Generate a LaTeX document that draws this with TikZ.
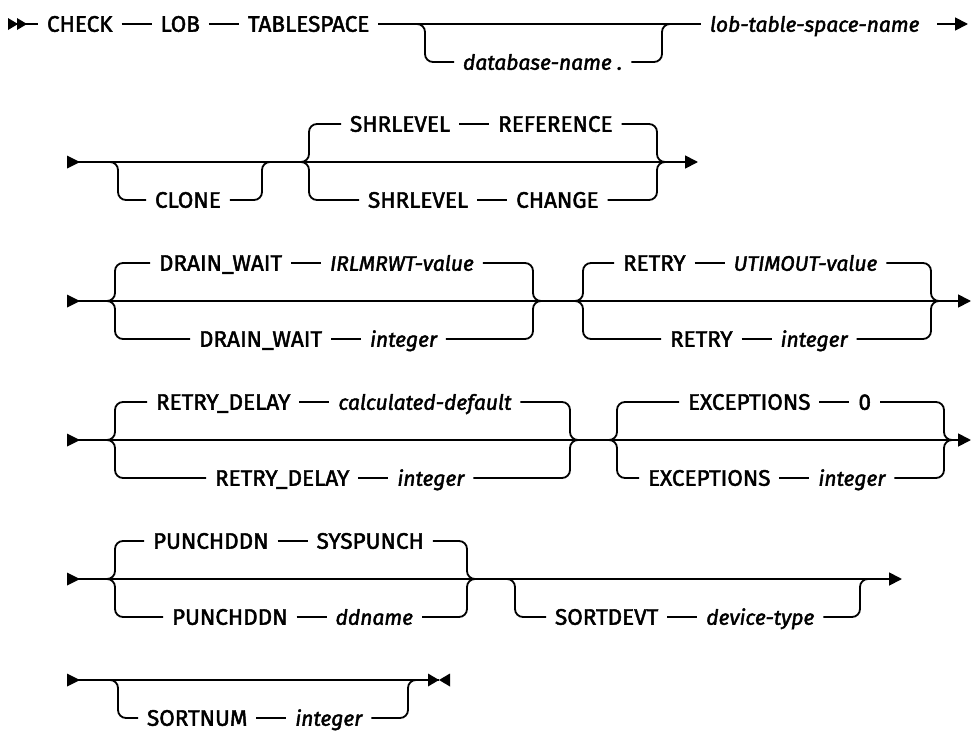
\documentclass[tikz,border=0pt]{standalone}
\usepackage{fontspec}
\setmainfont{Fira Sans}[FakeBold=2]
\usepackage{tikz}
\usetikzlibrary{positioning,arrows.meta}

\begin{document}
\begin{tikzpicture}[x=1pt,y=-1pt,node distance=30pt]
  \tikzstyle{rail}=[line width=1.8pt,rounded corners=8pt]
  \tikzstyle{kw}=[font=\fontsize{22.5}{26}\selectfont\addfontfeature{FakeBold=2},
                  inner sep=0pt,outer xsep=9pt,text height=15.5pt,
                  text depth=0pt,anchor=west]
  \tikzstyle{var}=[kw,font=\fontsize{21}{25}\selectfont\itshape\addfontfeature{FakeBold=2}]
  \tikzstyle{go}=[-{Triangle[length=13pt,width=13pt]}]

  \useasboundingbox (0,0) rectangle (972,736);

  % row 1
  \coordinate (r1s) at (8,24);
  \coordinate (s1) at (415,24);
  \coordinate (j1) at (672,24);
  \coordinate (e1) at (968,24);
  \node[kw] (check) at (38,24) {CHECK};
  \node[kw] (lob) [right=of check] {LOB};
  \node[kw] (tblspace) [right=of lob] {TABLESPACE};
  \node[var] (dbname) at (454,62) {database-name .};
  \node[var] (lobname) at (701,24) {lob-table-space-name};

  \fill (r1s) -- ++(0,-6) -- ++(10,6) -- ++(-10,6) -- cycle;
  \fill (r1s) ++(9,0) -- ++(0,-6) -- ++(10,6) -- ++(-10,6) -- cycle;
  \draw[rail] (r1s) -- (check);
  \draw[rail] (check) -- (lob);
  \draw[rail] (lob) -- (tblspace);
  \draw[rail] (tblspace) -- (lobname);
  \draw[rail] (s1) -- ++(10,0) |- (dbname);
  \draw[rail] (j1) -- ++(-10,0) |- (dbname);
  \draw[rail,go,shorten <=9pt] (lobname) -- (e1);

  % row 2
  \coordinate (r2s) at (67,162);
  \coordinate (e2) at (698,162);
  \coordinate (s2a) at (108,162);
  \coordinate (j2a) at (272,162);
  \coordinate (s2b) at (299,162);
  \coordinate (j2b) at (667,162);
  \node[kw] (clone) at (146,200) {CLONE};
  \node[kw] (shrA) at (341,124) {SHRLEVEL};
  \node[kw] (refr) [right=of shrA] {REFERENCE};
  \node[kw] (shrB) at (359,200) {SHRLEVEL};
  \node[kw] (chng) [right=of shrB] {CHANGE};

  \fill (r2s) -- ++(0,-6.5) -- ++(13,6.5) -- ++(-13,6.5) -- cycle;
  \draw[rail,go] (r2s) -- (e2);
  \draw[rail] (s2a) -- ++(10,0) |- (clone);
  \draw[rail] (j2a) -- ++(-10,0) |- (clone);
  \draw[rail] (s2b) -- ++(10,0) |- (shrA);
  \draw[rail] (s2b) -- ++(10,0) |- (shrB);
  \draw[rail] (shrA) -- (refr);
  \draw[rail] (shrB) -- (chng);
  \draw[rail] (j2b) -- ++(-10,0) |- (refr);
  \draw[rail] (j2b) -- ++(-10,0) |- (chng);

  % row 3
  \coordinate (r3s) at (67,301);
  \coordinate (e3) at (971,301);
  \coordinate (s3a) at (105,301);
  \coordinate (j3a) at (543,301);
  \coordinate (s3b) at (573,301);
  \coordinate (j3b) at (941,301);
  \node[kw] (dwA) at (150,263) {DRAIN\_WAIT};
  \node[var] (irlm) [right=of dwA] {IRLMRWT-value};
  \node[kw] (dwB) at (190,339) {DRAIN\_WAIT};
  \node[var] (dwint) [right=of dwB] {integer};
  \node[kw] (rtA) at (614,263) {RETRY};
  \node[var] (utim) [right=of rtA] {UTIMOUT-value};
  \node[kw] (rtB) at (661,339) {RETRY};
  \node[var] (rtint) [right=of rtB] {integer};

  \fill (r3s) -- ++(0,-6.5) -- ++(13,6.5) -- ++(-13,6.5) -- cycle;
  \draw[rail,go] (r3s) -- (e3);
  \draw[rail] (s3a) -- ++(10,0) |- (dwA);
  \draw[rail] (s3a) -- ++(10,0) |- (dwB);
  \draw[rail] (dwA) -- (irlm);
  \draw[rail] (dwB) -- (dwint);
  \draw[rail] (j3a) -- ++(-10,0) |- (irlm);
  \draw[rail] (j3a) -- ++(-10,0) |- (dwint);
  \draw[rail] (s3b) -- ++(10,0) |- (rtA);
  \draw[rail] (s3b) -- ++(10,0) |- (rtB);
  \draw[rail] (rtA) -- (utim);
  \draw[rail] (rtB) -- (rtint);
  \draw[rail] (j3b) -- ++(-10,0) |- (utim);
  \draw[rail] (j3b) -- ++(-10,0) |- (rtint);

  % row 4
  \coordinate (r4s) at (67,440);
  \coordinate (e4) at (971,440);
  \coordinate (s4a) at (105,440);
  \coordinate (j4a) at (580,440);
  \coordinate (s4b) at (607,440);
  \coordinate (j4b) at (954,440);
  \node[kw] (rdA) at (147,402) {RETRY\_DELAY};
  \node[var] (calc) [right=of rdA] {calculated-default};
  \node[kw] (rdB) at (206,478) {RETRY\_DELAY};
  \node[var] (rdint) [right=of rdB] {integer};
  \node[kw] (exA) at (679,402) {EXCEPTIONS};
  \node[kw] (zero) [right=of exA] {0};
  \node[kw] (exB) at (639,478) {EXCEPTIONS};
  \node[var] (exint) [right=of exB] {integer};

  \fill (r4s) -- ++(0,-6.5) -- ++(13,6.5) -- ++(-13,6.5) -- cycle;
  \draw[rail,go] (r4s) -- (e4);
  \draw[rail] (s4a) -- ++(10,0) |- (rdA);
  \draw[rail] (s4a) -- ++(10,0) |- (rdB);
  \draw[rail] (rdA) -- (calc);
  \draw[rail] (rdB) -- (rdint);
  \draw[rail] (j4a) -- ++(-10,0) |- (calc);
  \draw[rail] (j4a) -- ++(-10,0) |- (rdint);
  \draw[rail] (s4b) -- ++(10,0) |- (exA);
  \draw[rail] (s4b) -- ++(10,0) |- (exB);
  \draw[rail] (exA) -- (zero);
  \draw[rail] (exB) -- (exint);
  \draw[rail] (j4b) -- ++(-10,0) |- (zero);
  \draw[rail] (j4b) -- ++(-10,0) |- (exint);

  % row 5
  \coordinate (r5s) at (67,579);
  \coordinate (e5) at (902,579);
  \coordinate (s5a) at (105,579);
  \coordinate (j5a) at (477,579);
  \coordinate (s5b) at (505,579);
  \coordinate (j5b) at (870,579);
  \node[kw] (pdA) at (144,541) {PUNCHDDN};
  \node[kw] (sysp) [right=of pdA] {SYSPUNCH};
  \node[kw] (pdB) at (163,617) {PUNCHDDN};
  \node[var] (ddn) [right=of pdB] {ddname};
  \node[kw] (sdv) at (546,617) {SORTDEVT};
  \node[var] (devt) [right=of sdv] {device-type};

  \fill (r5s) -- ++(0,-6.5) -- ++(13,6.5) -- ++(-13,6.5) -- cycle;
  \draw[rail,go] (r5s) -- (e5);
  \draw[rail] (s5a) -- ++(10,0) |- (pdA);
  \draw[rail] (s5a) -- ++(10,0) |- (pdB);
  \draw[rail] (pdA) -- (sysp);
  \draw[rail] (pdB) -- (ddn);
  \draw[rail] (j5a) -- ++(-10,0) |- (sysp);
  \draw[rail] (j5a) -- ++(-10,0) |- (ddn);
  \draw[rail] (s5b) -- ++(10,0) |- (sdv);
  \draw[rail] (sdv) -- (devt);
  \draw[rail] (j5b) -- ++(-10,0) |- (devt);

  % row 6
  \coordinate (r6s) at (67,680);
  \coordinate (ef6) at (439,680);
  \coordinate (s6) at (108,680);
  \coordinate (j6) at (418,680);
  \node[kw] (snum) at (138,718) {SORTNUM};
  \node[var] (snint) [right=of snum] {integer};

  \fill (r6s) -- ++(0,-6.5) -- ++(13,6.5) -- ++(-13,6.5) -- cycle;
  \draw[rail] (r6s) -- (ef6);
  \draw[rail] (s6) -- ++(10,0) |- (snum);
  \draw[rail] (snum) -- (snint);
  \draw[rail] (j6) -- ++(-10,0) |- (snint);
  \fill (ef6) -- ++(-11,-6.5) -- ++(0,13) -- cycle;
  \fill (ef6) -- ++(11,-6.5) -- ++(0,13) -- cycle;
\end{tikzpicture}
\end{document}
